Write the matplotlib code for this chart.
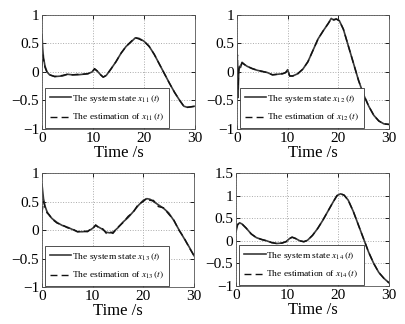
import matplotlib
matplotlib.use('Agg')
import matplotlib.pyplot as plt

plt.rcParams['font.family'] = ['Liberation Serif', 'DejaVu Serif']
plt.rcParams['mathtext.fontset'] = 'stix'

# time samples (s) and states
t11 = [0, 0.15, 0.3, 0.6, 1, 1.5, 2.5, 4, 5, 6, 7, 8, 9, 9.8, 10.3, 10.8, 11.5, 12, 12.6,
       13.5, 14.5, 15.5, 16.5, 17.5, 18.3, 19, 20, 21, 22, 23, 24, 25, 26, 27, 27.8, 28.5, 29.3, 30]
x11 = [0.65, 0.4, 0.25, 0.1, 0.0, -0.05, -0.08, -0.07, -0.04, -0.05, -0.05, -0.04, -0.03, 0.0, 0.05,
       0.02, -0.05, -0.09, -0.06, 0.05, 0.18, 0.33, 0.45, 0.53, 0.6, 0.59, 0.54, 0.45, 0.31, 0.14,
       -0.03, -0.2, -0.36, -0.5, -0.6, -0.62, -0.61, -0.6]
e11 = [0.1, 0.3, 0.22, 0.08, -0.01, -0.05, -0.08, -0.06, -0.04, -0.05, -0.04, -0.04, -0.03, 0.0, 0.06,
       0.02, -0.05, -0.09, -0.06, 0.05, 0.18, 0.33, 0.45, 0.54, 0.6, 0.58, 0.54, 0.45, 0.31, 0.14,
       -0.03, -0.2, -0.36, -0.5, -0.6, -0.62, -0.61, -0.6]

t12 = [0, 0.1, 0.2, 0.35, 0.5, 0.7, 1, 1.5, 2, 3, 4, 5, 6, 7, 8, 9, 9.6, 10, 10.4, 11, 12, 13,
       14, 15, 16, 17, 18, 18.6, 19.1, 19.6, 20.2, 21, 22, 23, 24, 25, 26, 27, 28, 29, 30]
x12 = [0.5, -0.1, -0.45, 0.0, 0.1, 0.08, 0.17, 0.13, 0.1, 0.06, 0.03, 0.01, -0.01, -0.05, -0.04, -0.03,
       -0.01, 0.04, -0.07, -0.07, -0.03, 0.05, 0.18, 0.38, 0.58, 0.72, 0.85, 0.94, 0.91, 0.93, 0.9,
       0.75, 0.45, 0.15, -0.15, -0.4, -0.6, -0.76, -0.86, -0.91, -0.92]
e12 = [0.0, 0.3, -0.3, 0.05, 0.12, 0.1, 0.16, 0.13, 0.1, 0.06, 0.03, 0.01, -0.01, -0.05, -0.04, -0.03,
       -0.01, 0.03, -0.07, -0.07, -0.03, 0.05, 0.18, 0.38, 0.58, 0.72, 0.85, 0.93, 0.92, 0.93, 0.9,
       0.75, 0.45, 0.15, -0.15, -0.4, -0.6, -0.76, -0.86, -0.91, -0.92]

t13 = [0, 0.3, 0.6, 1, 1.5, 2, 3, 4, 5, 6, 7, 8, 9, 9.5, 10, 10.6, 11.2, 12, 12.7, 13.4, 14, 15, 16,
       17, 18, 19, 20, 20.7, 21.3, 22, 23, 24, 25, 26, 27, 28, 29, 30]
x13 = [0.8, 0.55, 0.42, 0.32, 0.25, 0.2, 0.13, 0.08, 0.05, 0.01, -0.03, -0.03, -0.02, 0.0, 0.03,
       0.08, 0.05, 0.01, -0.04, -0.05, -0.04, 0.04, 0.14, 0.22, 0.32, 0.43, 0.52, 0.55, 0.54, 0.5,
       0.44, 0.38, 0.3, 0.17, 0.01, -0.14, -0.29, -0.45]
e13 = [0.3, 0.5, 0.4, 0.3, 0.26, 0.19, 0.12, 0.09, 0.04, 0.02, -0.03, -0.02, -0.03, 0.01, 0.02,
       0.09, 0.04, 0.02, -0.06, -0.03, -0.06, 0.05, 0.13, 0.24, 0.31, 0.45, 0.5, 0.56, 0.52, 0.52,
       0.41, 0.39, 0.28, 0.18, 0.0, -0.13, -0.3, -0.45]

t14 = [0, 0.3, 0.7, 1.2, 2, 3, 4, 5, 6, 7, 8, 9, 9.8, 10.5, 11, 11.7, 12.5, 13.3, 14, 15, 16, 17,
       18, 19, 19.8, 20.5, 21.2, 22, 23, 24, 25, 26, 27, 28, 29, 30]
x14 = [0.2, 0.35, 0.4, 0.37, 0.28, 0.15, 0.07, 0.03, 0.0, -0.04, -0.06, -0.05, -0.02, 0.05, 0.08,
       0.05, 0.0, -0.02, 0.01, 0.12, 0.27, 0.45, 0.65, 0.85, 1.0, 1.04, 1.01, 0.9, 0.65, 0.35,
       0.05, -0.25, -0.5, -0.7, -0.83, -0.93]
e14 = [0.25, 0.36, 0.4, 0.37, 0.28, 0.15, 0.07, 0.03, 0.0, -0.04, -0.06, -0.05, -0.02, 0.05, 0.08,
       0.05, 0.0, -0.02, 0.01, 0.12, 0.27, 0.45, 0.65, 0.85, 1.0, 1.04, 1.01, 0.9, 0.65, 0.35,
       0.05, -0.25, -0.5, -0.7, -0.83, -0.93]

panels = [
    (t11, x11, e11, '11', [-1, -0.5, 0, 0.5, 1], (-1, 1)),
    (t12, x12, e12, '12', [-1, -0.5, 0, 0.5, 1], (-1, 1)),
    (t13, x13, e13, '13', [-1, -0.5, 0, 0.5, 1], (-1, 1)),
    (t14, x14, e14, '14', [-1, -0.5, 0, 0.5, 1, 1.5], (-1, 1.5)),
]
xticks = [0, 10, 20, 30]

fig = plt.figure(figsize=(4.06, 3.24), dpi=100)
rects = [
    [0.1034, 0.6019, 0.377, 0.3518],
    [0.5837, 0.6019, 0.3744, 0.3518],
    [0.1034, 0.1142, 0.3744, 0.3518],
    [0.5813, 0.1173, 0.3768, 0.3487],
]

for rect, (t, x, e, idx, yt, ylim) in zip(rects, panels):
    ax = fig.add_axes(rect)
    ax.plot(t, x, '-', color='#3a3a3a', lw=1.2,
            label='The system state $x_{%s}\\,(t)$' % idx)
    ax.plot(t, e, '--', color='#111111', lw=1.0, dashes=(5, 3),
            label='The estimation of $x_{%s}\\,(t)$' % idx)
    ax.set_xlim(0, 30)
    ax.set_ylim(*ylim)
    ax.set_xticks(xticks)
    ax.set_yticks(yt)
    ax.set_yticklabels([('%g' % v).replace('-', '\u2212') for v in yt])
    ax.grid(True, linestyle=':', color='#aaaaaa', lw=0.7)
    ax.tick_params(direction='in', labelsize=11, length=3, width=0.6,
                   top=True, right=True, pad=2)
    for s in ax.spines.values():
        s.set_linewidth(0.6)
        s.set_color('#555555')
    ax.set_xlabel('Time /s', fontsize=12, labelpad=0)
    leg = ax.legend(loc='lower left', bbox_to_anchor=(0.02, 0.008), borderaxespad=0,
                    fontsize=6.8, frameon=True, fancybox=False, framealpha=1,
                    handlelength=2.3, handletextpad=0.1, borderpad=0.5, labelspacing=0.8)
    leg.get_frame().set_edgecolor('#333333')
    leg.get_frame().set_linewidth(0.6)

fig.savefig('out.png', dpi=100)
